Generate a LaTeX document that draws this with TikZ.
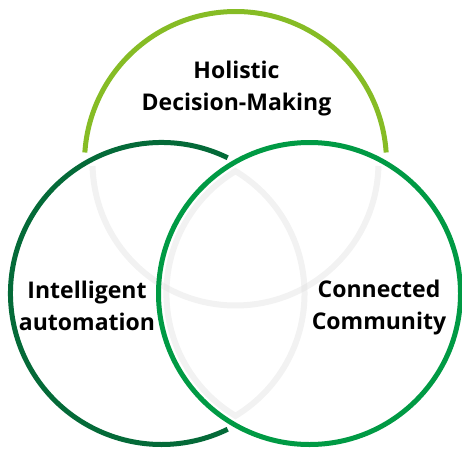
\documentclass[tikz,border=0pt]{standalone}
\usepackage{fontspec}
\setmainfont{Open Sans}
\definecolor{hdgreen}{HTML}{86BC25}
\definecolor{iagreen}{HTML}{046A38}
\definecolor{ccgreen}{HTML}{009A44}
\tikzset{
	ring/.style={line width=5pt},
	faded ring/.style={line width=6pt, draw=black!12, draw opacity=.42},
	venn label/.style={font=\bfseries\fontsize{23}{32}\selectfont, align=center}
}
\begin{document}
\begin{tikzpicture}[x=1pt,y=1pt]
	\useasboundingbox (0,0) rectangle (462,448);
	\coordinate (ctop) at (235.5,285.5);
	\coordinate (cleft) at (161.5,154.5);
	\coordinate (cright) at (309.5,154.5);
	
	\draw[faded ring] ([shift={(181.4:143)}]ctop) arc[start angle=181.4, end angle=358.6, radius=143];
	\draw[faded ring] ([shift={(58.85:143)}]cleft) arc[start angle=58.85, end angle=-58.85, radius=143]
		arc[start angle=238.85, end angle=121.15, radius=143] -- cycle;
	
	\draw[ring, hdgreen] ([shift={(3.8:151)}]ctop) arc[start angle=3.8, end angle=176.2, radius=151];
	\draw[ring, iagreen] ([shift={(64:151)}]cleft) arc[start angle=64, end angle=296, radius=151];
	\draw[ring, ccgreen] (cright) circle[radius=151];
	
	\node[venn label] at (236.5,359) (holistic) {Holistic\\Decision-Making};
	\node[venn label] at (87,142) (intelligent) {Intelligent\\automation};
	\node[venn label] at (379,140) (connected) {Connected\\Community};
\end{tikzpicture}
\end{document}
